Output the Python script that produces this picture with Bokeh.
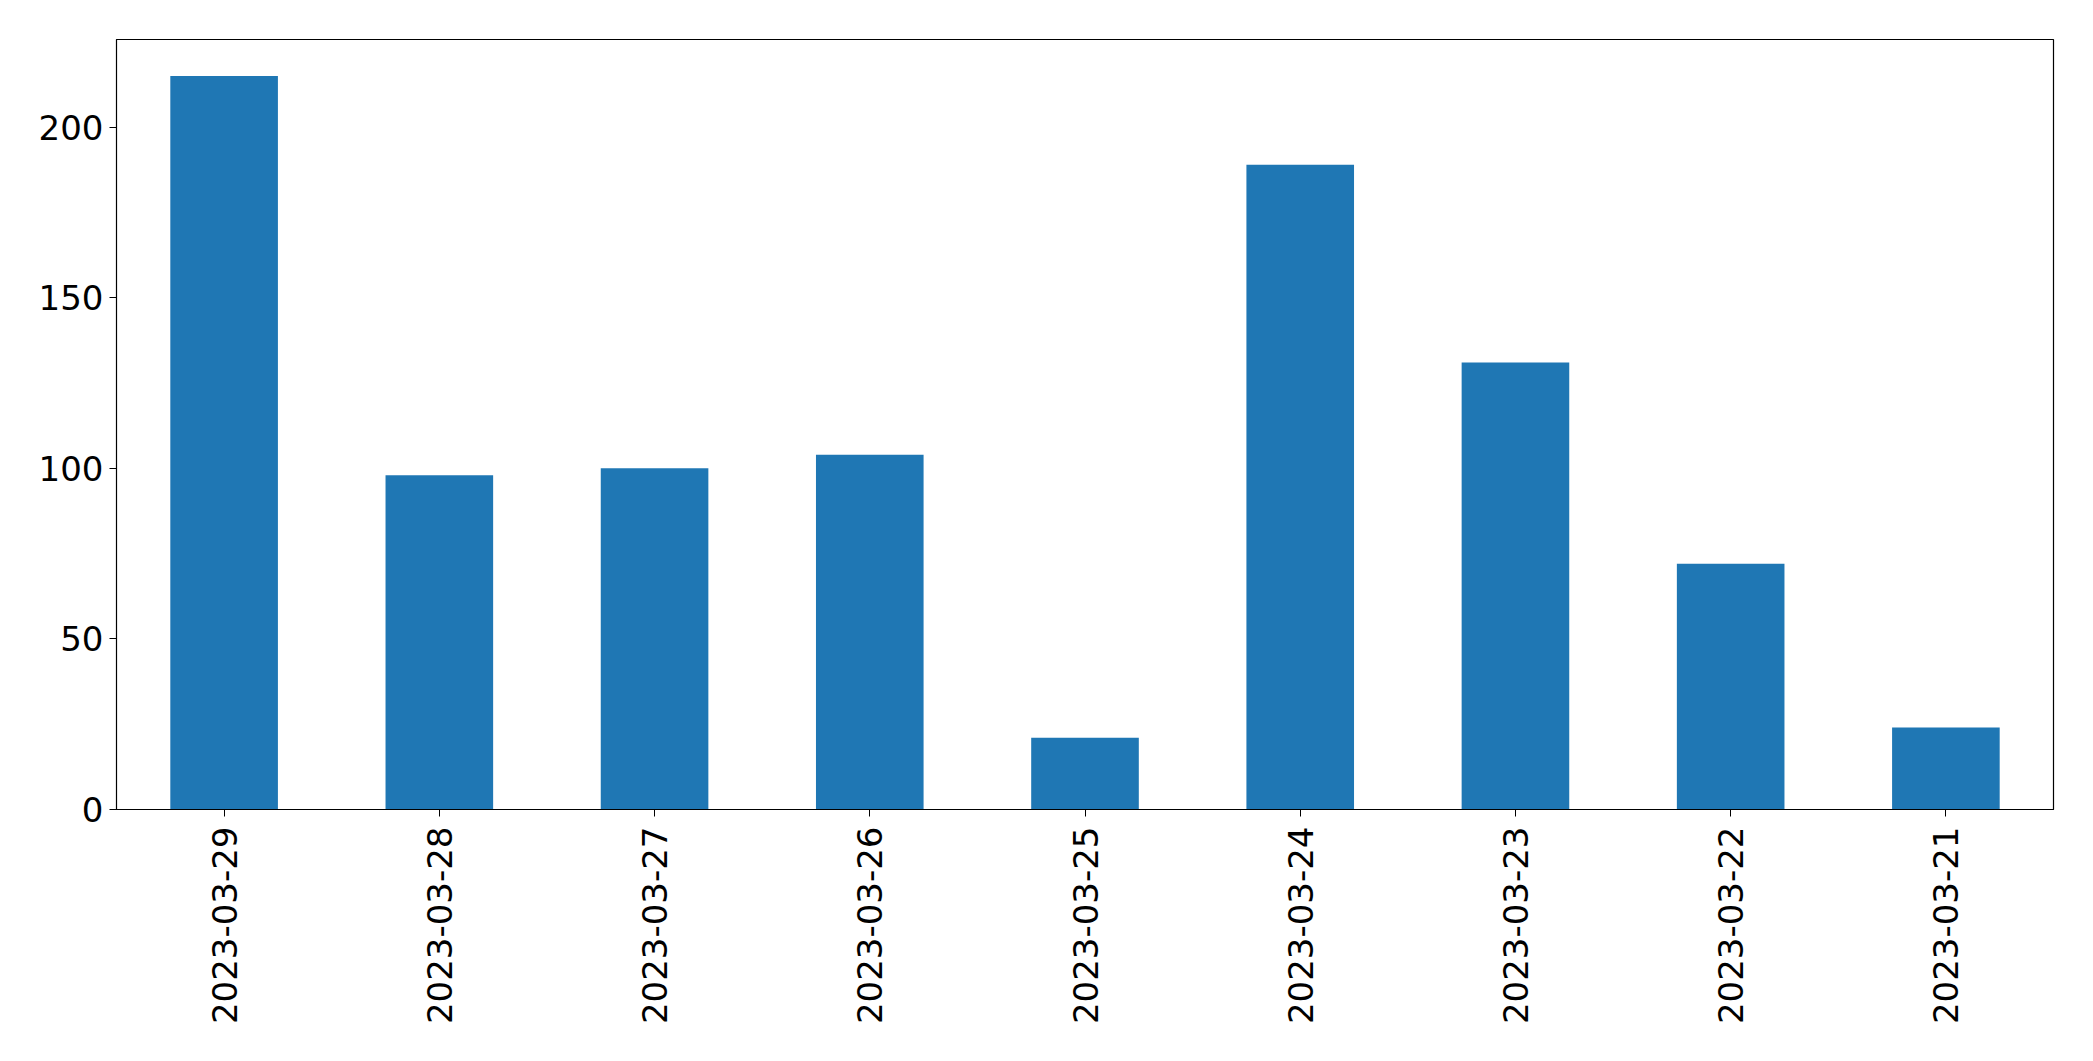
import math
from bokeh.plotting import figure
from bokeh.models import Range1d, FactorRange, FixedTicker
from bokeh.embed import file_html
from bokeh.resources import INLINE

dates = ["2023-03-29", "2023-03-28", "2023-03-27", "2023-03-26", "2023-03-25",
         "2023-03-24", "2023-03-23", "2023-03-22", "2023-03-21"]
counts = [215, 98, 100, 104, 21, 189, 131, 72, 24]
y_ticks = [0, 50, 100, 150, 200]

p = figure(width=2077, height=1045, output_backend="svg", toolbar_location=None,
           x_range=FactorRange(*dates, range_padding=0), y_range=Range1d(0, 225.7),
           min_border_left=116, min_border_right=24, min_border_top=39, min_border_bottom=236)
p.vbar(x=dates, top=counts, width=0.5, color="#1f77b4", line_color=None)

p.grid.visible = False
p.outline_line_color = "black"
p.outline_line_width = 1.2
for ax in (p.xaxis[0], p.yaxis[0]):
    ax.axis_line_color = "black"
    ax.major_tick_line_color = "black"
    ax.major_tick_out = 7
    ax.major_tick_in = 0
    ax.minor_tick_line_color = None
    ax.major_label_text_font = "DejaVu Sans"
    ax.major_label_text_font_size = "34px"
    ax.major_label_text_color = "black"
    ax.major_label_standoff = 6
p.yaxis.ticker = FixedTicker(ticks=y_ticks)
p.xaxis.major_label_orientation = math.pi / 2
p.xaxis.major_label_standoff = 10

open("out.html", "w").write(file_html(p, INLINE))
